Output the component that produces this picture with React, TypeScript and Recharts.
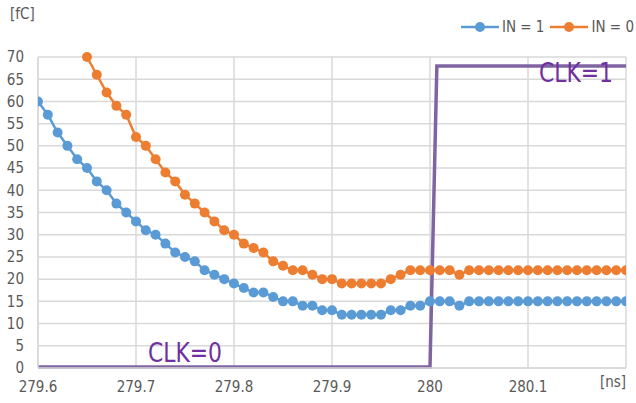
import React from 'react';
import { LineChart, Line, XAxis, YAxis, CartesianGrid, Legend } from 'recharts';

// sample times [ns]
const times = [
  279.6, 279.61, 279.62, 279.63, 279.64, 279.65, 279.66, 279.67, 279.68, 279.69,
  279.7, 279.71, 279.72, 279.73, 279.74, 279.75, 279.76, 279.77, 279.78, 279.79,
  279.8, 279.81, 279.82, 279.83, 279.84, 279.85, 279.86, 279.87, 279.88, 279.89,
  279.9, 279.91, 279.92, 279.93, 279.94, 279.95, 279.96, 279.97, 279.98, 279.99,
  280.0, 280.01, 280.02, 280.03, 280.04, 280.05, 280.06, 280.07, 280.08, 280.09,
  280.1, 280.11, 280.12, 280.13, 280.14, 280.15, 280.16, 280.17, 280.18, 280.19,
  280.2,
];

// IN = 1 charge [fC]
const in1 = [
  60, 57, 53, 50, 47, 45, 42, 40, 37, 35,
  33, 31, 30, 28, 26, 25, 24, 22, 21, 20,
  19, 18, 17, 17, 16, 15, 15, 14, 14, 13,
  13, 12, 12, 12, 12, 12, 13, 13, 14, 14,
  15, 15, 15, 14, 15, 15, 15, 15, 15, 15,
  15, 15, 15, 15, 15, 15, 15, 15, 15, 15,
  15,
];

// IN = 0 charge [fC]
const in0: (number | null)[] = [
  null, null, null, null, null, 70, 66, 62, 59, 57,
  52, 50, 47, 44, 42, 39, 37, 35, 33, 31,
  30, 28, 27, 26, 24, 23, 22, 22, 21, 20,
  20, 19, 19, 19, 19, 19, 20, 21, 22, 22,
  22, 22, 22, 21, 22, 22, 22, 22, 22, 22,
  22, 22, 22, 22, 22, 22, 22, 22, 22, 22,
  22,
];

// clock waveform
const clkTimes = [279.6, 280.0, 280.007, 280.2];
const clkValues = [0.2, 0.2, 68, 68];

const xTicks = [279.6, 279.7, 279.8, 279.9, 280.0, 280.1];
const yTicks = [0, 5, 10, 15, 20, 25, 30, 35, 40, 45, 50, 55, 60, 65, 70];

const seriesNames = ['IN = 1', 'IN = 0'];

const BLUE = '#5B9BD5';
const ORANGE = '#ED7D31';
const PURPLE_LINE = '#8064A2';
const PURPLE_TEXT = '#7030A0';
const GRID = '#D9D9D9';
const TEXT = '#595959';
const FONT = '"DejaVu Sans", sans-serif';

const tickStyle = { fill: TEXT, fontSize: 15, fontFamily: FONT, fontStretch: 'condensed' } as any;

const rows = times.map((t, i) => ({ t, in1: in1[i], in0: in0[i] }));
const clkRows = clkTimes.map((t, i) => ({ t, clk: clkValues[i] }));

const LegendContent = () => (
  <div style={{ display: 'flex', alignItems: 'center', fontFamily: FONT, fontStretch: 'condensed', fontSize: 15, color: TEXT }}>
    {[BLUE, ORANGE].map((c, i) => (
      <div key={i} style={{ display: 'flex', alignItems: 'center', marginLeft: i ? 6 : 0 }}>
        <svg width={38} height={12}>
          <line x1={0} y1={6} x2={38} y2={6} stroke={c} strokeWidth={2.5} />
          <circle cx={19} cy={6} r={5} fill={c} />
        </svg>
        <span style={{ marginLeft: 3 }}>{seriesNames[i]}</span>
      </div>
    ))}
  </div>
);

const App: React.FC = () => {
  return (
    <div style={{ position: 'absolute', left: 0, top: 0, width: 636, height: 403, background: '#fff', fontFamily: FONT, fontStretch: 'condensed' }}>
      <LineChart width={636} height={403} data={rows} margin={{ top: 39, right: 10, left: 0, bottom: 10 }}>
        <CartesianGrid stroke={GRID} strokeWidth={1.5} />
        <XAxis
          dataKey="t"
          type="number"
          domain={[279.6, 280.2]}
          ticks={xTicks}
          interval={0}
          allowDataOverflow
          tickFormatter={(v: number) => String(parseFloat(v.toFixed(1)))}
          tick={tickStyle}
          axisLine={{ stroke: GRID, strokeWidth: 1.5 }}
          tickLine={false}
          tickSize={0}
          tickMargin={13}
          height={25}
        />
        <YAxis
          type="number"
          domain={[0, 70]}
          ticks={yTicks}
          interval={0}
          tick={tickStyle}
          axisLine={{ stroke: GRID, strokeWidth: 1.5 }}
          tickLine={false}
          tickSize={0}
          tickMargin={14}
          width={38}
        />
        <Legend verticalAlign="top" align="right" content={<LegendContent />} wrapperStyle={{ top: 18, right: 2, left: 'auto', width: 'auto' }} />
        <Line
          dataKey="in1"
          name={seriesNames[0]}
          stroke={BLUE}
          strokeWidth={2.5}
          dot={{ r: 5, fill: BLUE, stroke: BLUE, strokeWidth: 0 }}
          isAnimationActive={false}
        />
        <Line
          dataKey="in0"
          name={seriesNames[1]}
          stroke={ORANGE}
          strokeWidth={2.5}
          dot={{ r: 5, fill: ORANGE, stroke: ORANGE, strokeWidth: 0 }}
          isAnimationActive={false}
        />
        <Line
          data={clkRows}
          dataKey="clk"
          stroke={PURPLE_LINE}
          strokeWidth={3.5}
          dot={false}
          legendType="none"
          isAnimationActive={false}
        />
      </LineChart>

      <div style={{ position: 'absolute', left: 10, top: 7, fontSize: 15, color: TEXT, lineHeight: 1 }}>[fC]</div>
      <div style={{ position: 'absolute', left: 600, top: 375, fontSize: 15, color: TEXT, lineHeight: 1 }}>[ns]</div>
      <div style={{ position: 'absolute', left: 539, top: 59, fontSize: 27, color: PURPLE_TEXT, lineHeight: 1, transformOrigin: 'left top', transform: 'scaleX(0.9)' }}>CLK=1</div>
      <div style={{ position: 'absolute', left: 148, top: 339, fontSize: 27, color: PURPLE_TEXT, lineHeight: 1, transformOrigin: 'left top', transform: 'scaleX(0.9)' }}>CLK=0</div>
    </div>
  );
};

export default App;
